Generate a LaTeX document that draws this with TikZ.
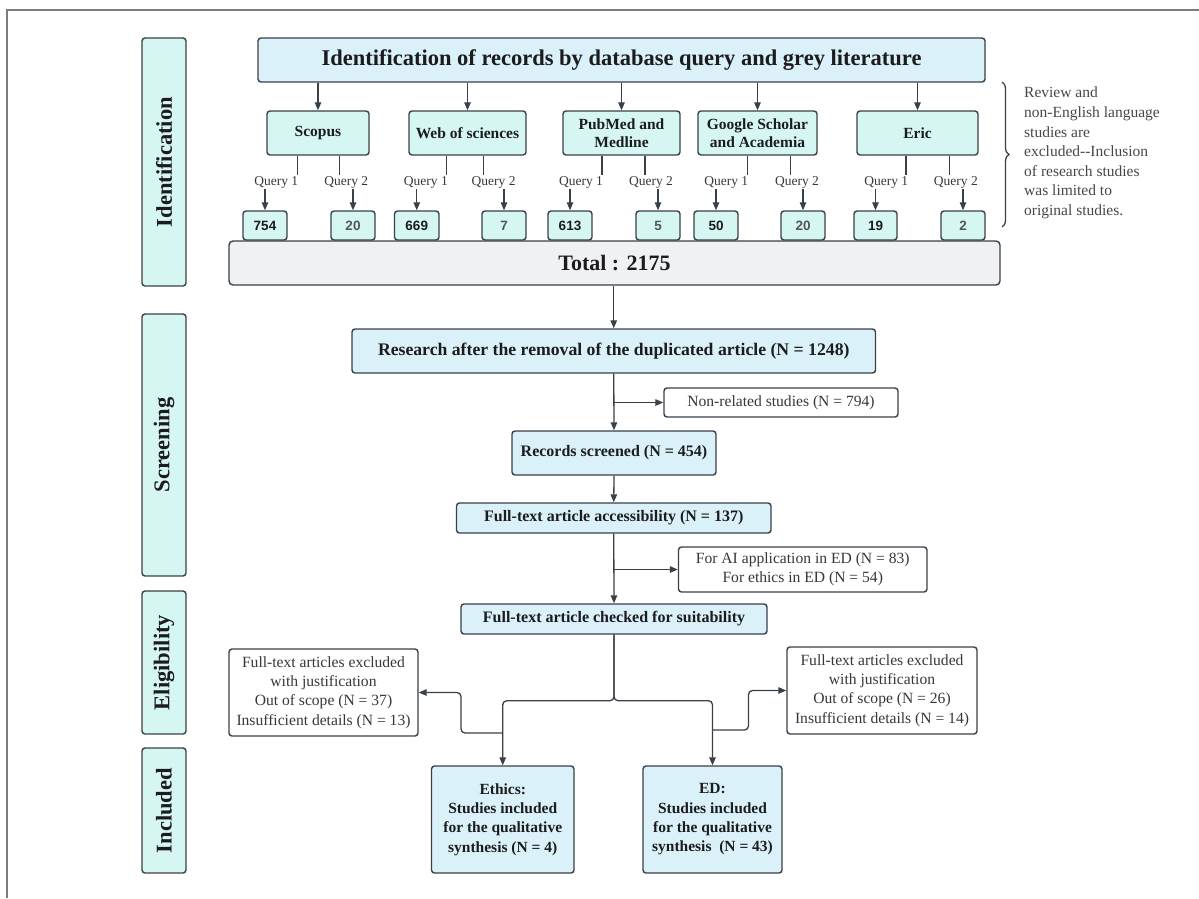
\documentclass[tikz,border=0pt]{standalone}
\usepackage{fontspec}
\setmainfont{Liberation Serif}
\newfontfamily\numfont{Liberation Sans}
\usetikzlibrary{arrows.meta,decorations.pathreplacing,calc}
\definecolor{bordc}{RGB}{58,64,72}
\definecolor{bluef}{RGB}{218,241,250}
\definecolor{mintf}{RGB}{214,246,241}
\definecolor{grayf}{RGB}{240,241,243}
\definecolor{txtc}{RGB}{28,28,30}
\definecolor{softtxt}{RGB}{55,55,58}
\definecolor{notec}{RGB}{70,70,72}
\definecolor{numgray}{RGB}{80,86,92}
\definecolor{framec}{RGB}{125,125,125}
\newcommand\fs[2]{\fontsize{#1}{#2}\selectfont}
\newcommand\place[7]{\node[#2,minimum width={#5-#3},minimum height={#6-#4}] (#1) at ({(#3+#5)/2},{(#4+#6)/2}) {#7};}
\begin{document}
\begin{tikzpicture}[x=1pt,y=-1pt,
  box/.style={draw=bordc,line width=1.4pt,rounded corners=3pt,align=center,inner sep=0pt,text=txtc},
  bluebox/.style={box,fill=bluef,font=\bfseries\fs{16}{19.3}},
  bigbluebox/.style={box,fill=bluef,font=\bfseries\fs{17.7}{21}},
  titlebox/.style={box,fill=bluef,font=\bfseries\fs{22.5}{26}},
  srcbox/.style={box,fill=mintf,font=\bfseries\fs{15.5}{18}},
  numbox/.style={box,fill=mintf,font=\numfont\bfseries\fs{13.5}{16}},
  numboxb/.style={numbox,text=numgray},
  sidebox/.style={box,fill=mintf,rotate=90,font=\bfseries\fs{22.5}{26}},
  totalbox/.style={box,fill=grayf,rounded corners=4pt,font=\bfseries\fs{22}{26}},
  whitebox/.style={box,fill=white,text=softtxt,font=\fs{15.6}{19.3}},
  incbox/.style={box,fill=bluef,font=\bfseries\fs{15.5}{19.3}},
  qlab/.style={inner sep=0pt,text=softtxt,font=\fs{13.5}{15}},
  conn/.style={draw=bordc,line width=1.3pt},
  arr/.style={conn,-{Triangle[length=8pt,width=6.5pt]}},
]
\useasboundingbox (0,0) rectangle (1199,898);
\draw[framec,line width=1.8pt] (7,898) -- (7,10) -- (1199,10);

% phase labels
\node[sidebox,minimum width=248,minimum height=44] (sI) at (164,162) {Identification};
\node[sidebox,minimum width=262,minimum height=44] (sS) at (164,445) {Screening};
\node[sidebox,minimum width=143,minimum height=44] (sE) at (164,662.5) {Eligibility};
\node[sidebox,minimum width=125,minimum height=44] (sInc) at (164,810.5) {Included};

% identification
\place{title}{titlebox}{258}{38}{985}{82}{Identification of records by database query and grey literature}
\place{scopus}{srcbox}{267}{111}{369}{155}{Scopus}
\place{wos}{srcbox}{409}{111}{526}{155}{Web of sciences}
\place{pubmed}{srcbox}{563}{111}{680}{155}{PubMed and\\Medline}
\place{google}{srcbox}{698}{111}{817}{155}{Google Scholar\\and Academia}
\place{eric}{srcbox}{857}{111}{978}{155}{Eric}
\place{total}{totalbox}{229}{241}{1000}{285}{Total : 2175}
\place{n754}{numbox}{243}{211}{287}{240}{754}
\place{n20a}{numboxb}{331}{211}{375}{240}{20}
\place{n669}{numbox}{394.5}{211}{439}{240}{669}
\place{n7}{numboxb}{482}{211}{526}{240}{7}
\place{n613}{numbox}{548}{211}{592}{240}{613}
\place{n5}{numboxb}{636}{211}{680}{240}{5}
\place{n50}{numbox}{694}{211}{738}{240}{50}
\place{n20b}{numboxb}{781}{211}{825}{240}{20}
\place{n19}{numbox}{854}{211}{897}{240}{19}
\place{n2}{numboxb}{941}{211}{985}{240}{2}

\foreach \s in {scopus,wos,pubmed,google,eric}{
  \draw[arr] (title.south -| \s.north) -- (\s.north);
}
\foreach \s/\la/\lb/\qa/\qb/\na/\nb in {scopus/297.3/339.4/276.3/346.3/n754/n20a, wos/446.6/483.3/425.9/493.6/n669/n7, pubmed/602/645/581/651/n613/n5, google/747.3/790.6/726.3/797/n50/n20b, eric/906/949.4/886.2/955.9/n19/n2}{
  \coordinate (\s-la) at (\la,175);
  \coordinate (\s-lb) at (\lb,175);
  \draw[conn] (\s.south -| \s-la) -- (\s-la);
  \draw[conn] (\s.south -| \s-lb) -- (\s-lb);
  \node[qlab] (\s-q1) at (\qa,182) {Query 1};
  \node[qlab] (\s-q2) at (\qb,182) {Query 2};
  \coordinate (\s-aa) at ($(\na.north)+(0,-21)$);
  \coordinate (\s-ab) at ($(\nb.north)+(0,-21)$);
  \draw[arr] (\s-aa) -- (\na.north);
  \draw[arr] (\s-ab) -- (\nb.north);
}

% brace and note
\coordinate (brtop) at (1002,82);
\coordinate (brbot) at (1002,227);
\draw[draw=bordc,line width=1.3pt,decorate,decoration={brace,amplitude=7pt}] (brtop) -- (brbot);
\node[anchor=west,align=left,inner sep=0pt,text=notec,font=\fs{15.5}{19.6}] (note) at (1024,153) {Review and\\non-English language\\studies are\\excluded{-}{-}Inclusion\\of research studies\\was limited to\\original studies.};

% screening
\place{research}{bigbluebox}{352}{329}{875.5}{373}{Research after the removal of the duplicated article (N = 1248)}
\place{nonrel}{whitebox}{664}{388}{898}{417}{Non-related studies (N = 794)}
\place{records}{bluebox}{512}{431}{716}{475}{Records screened (N = 454)}
\place{access}{bluebox}{456.5}{503}{771}{533}{Full-text article accessibility (N = 137)}
\place{ai}{whitebox}{678.5}{547}{927}{592}{For AI application in ED (N = 83)\\For ethics in ED (N = 54)}
\place{checked}{bluebox}{461}{604}{767}{634}{Full-text article checked for suitability}
\place{exclL}{whitebox}{229}{649}{418}{736}{Full-text articles excluded\\with justification\\Out of scope (N = 37)\\Insufficient details (N = 13)}
\place{exclR}{whitebox}{787}{647}{977}{734}{Full-text articles excluded\\with justification\\Out of scope (N = 26)\\Insufficient details (N = 14)}
\place{ethics}{incbox}{431.5}{766}{574}{873}{Ethics:\\Studies included\\for the qualitative\\synthesis (N = 4)}
\place{ed}{incbox}{643}{766}{782}{873}{ED:\\Studies included\\for the qualitative\\synthesis~ (N = 43)}

\draw[arr] (total.south -| research.north) -- (research.north);
\draw[arr] (research.south) -- (records.north);
\coordinate (j1) at (research.south |- nonrel.west);
\draw[arr] (j1) -- (nonrel.west);
\draw[arr] (records.south) -- (access.north);
\draw[arr] (access.south) -- (checked.north);
\coordinate (j2) at (access.south |- ai.west);
\draw[arr] (j2) -- (ai.west);

\coordinate (jn) at ($(checked.south)+(0,66)$);
\draw[arr,rounded corners=4pt] (checked.south) -- (jn) -| (ethics.north);
\draw[arr,rounded corners=4pt] (checked.south) -- (jn) -| (ed.north);
\coordinate (bl) at (ethics.north |- 0,733);
\draw[arr,rounded corners=4pt] (bl) -- (461,733) -- (461,692.5) -- (exclL.east);
\coordinate (br) at (ed.north |- 0,730);
\draw[arr,rounded corners=4pt] (br) -- (748.5,730) -- (748.5,690.5) -- (exclR.west);
\end{tikzpicture}
\end{document}
